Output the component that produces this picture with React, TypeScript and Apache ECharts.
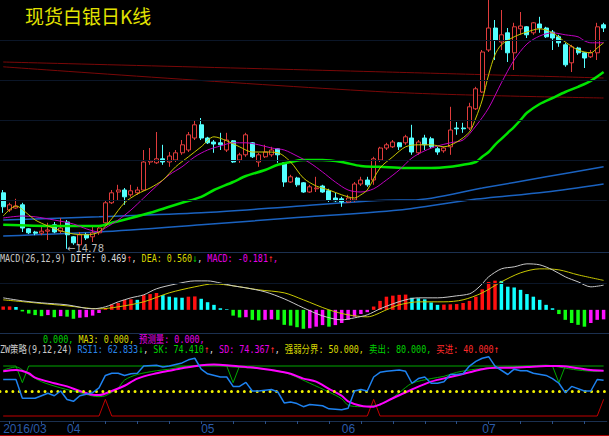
import React, { useEffect, useRef } from "react";
import * as echarts from "echarts";

// ---------- categories ----------
const START_DATE = "2016-03-18";
const BAR_COUNT = 95;
function weekdays(start: string, n: number): string[] {
  const out: string[] = [];
  const d = new Date(start + "T00:00:00Z");
  while (out.length < n) {
    const wd = d.getUTCDay();
    if (wd !== 0 && wd !== 6) out.push(d.toISOString().slice(0, 10));
    d.setUTCDate(d.getUTCDate() + 1);
  }
  return out;
}
const dates = weekdays(START_DATE, BAR_COUNT);

// ---------- K line: [open, close, low, high] ----------
const ohlc: number[][] = [
  [16.18, 15.83, 15.68, 16.25], [15.75, 15.88, 15.70, 15.93], [15.80, 15.85, 15.78, 16.03], [15.88, 15.30, 15.20, 15.93],
  [15.28, 15.18, 15.15, 15.30], [15.20, 15.17, 15.12, 15.23], [15.17, 15.22, 15.12, 15.33], [15.22, 15.25, 15.00, 15.43],
  [15.38, 15.20, 15.17, 15.45], [15.22, 15.30, 15.17, 15.55], [15.45, 15.13, 14.78, 15.50], [15.08, 14.93, 14.88, 15.10],
  [14.88, 15.13, 14.83, 15.20], [15.13, 15.05, 15.00, 15.18], [15.08, 15.18, 14.95, 15.33], [15.18, 15.30, 15.13, 15.35],
  [15.43, 15.93, 15.35, 15.98], [15.93, 16.18, 15.90, 16.25], [16.20, 16.25, 16.00, 16.38], [16.25, 16.08, 15.88, 16.30],
  [16.13, 16.23, 16.08, 16.38], [16.18, 16.25, 16.13, 16.33], [16.25, 16.95, 16.23, 17.25], [16.95, 16.98, 16.88, 17.30],
  [16.93, 17.03, 16.90, 17.70], [17.03, 16.95, 16.88, 17.38], [16.95, 17.10, 16.83, 17.20], [17.00, 17.18, 16.95, 17.25],
  [17.18, 17.38, 17.13, 17.50], [17.25, 17.63, 17.20, 17.70], [17.55, 17.88, 17.50, 18.00], [17.88, 17.55, 17.50, 18.05],
  [17.55, 17.43, 17.40, 17.58], [17.45, 17.40, 17.18, 17.50], [17.43, 17.38, 17.25, 17.68], [17.25, 17.50, 17.20, 17.68],
  [17.48, 16.95, 16.93, 17.50], [17.00, 17.13, 16.93, 17.18], [17.13, 17.63, 17.08, 17.68], [17.43, 17.08, 17.05, 17.45],
  [16.95, 17.13, 16.83, 17.18], [17.08, 17.20, 17.05, 17.38], [17.13, 17.25, 17.08, 17.33], [17.28, 17.13, 16.93, 17.30],
  [16.93, 16.45, 16.33, 16.95], [16.45, 16.58, 16.43, 16.63], [16.55, 16.38, 16.33, 16.58], [16.43, 16.20, 16.18, 16.45],
  [16.20, 16.33, 16.18, 16.38], [16.28, 16.30, 16.20, 16.58], [16.35, 16.20, 16.18, 16.38], [16.23, 16.00, 15.95, 16.28],
  [16.05, 15.98, 15.95, 16.18], [16.03, 15.95, 15.83, 16.08], [15.95, 16.05, 15.93, 16.13], [16.00, 16.40, 15.95, 16.45],
  [16.40, 16.50, 16.35, 16.58], [16.50, 16.38, 16.33, 16.58], [16.50, 17.03, 16.38, 17.08], [17.00, 17.30, 16.95, 17.33],
  [17.30, 17.38, 17.25, 17.43], [17.33, 17.45, 17.30, 17.50], [17.43, 17.33, 17.25, 17.45], [17.43, 17.58, 17.38, 17.63],
  [17.55, 17.20, 17.13, 17.88], [17.18, 17.45, 17.13, 17.50], [17.55, 17.38, 17.25, 17.63], [17.53, 17.33, 17.30, 17.58],
  [17.28, 17.20, 17.13, 17.33], [17.23, 17.30, 17.18, 17.33], [17.33, 17.75, 17.13, 18.33], [17.80, 17.78, 17.63, 17.95],
  [17.80, 17.78, 17.68, 17.93], [17.80, 18.33, 17.75, 18.43], [18.28, 18.78, 18.25, 18.83], [18.70, 19.70, 18.68, 19.75],
  [19.75, 20.30, 19.70, 21.10], [20.30, 20.00, 19.50, 20.50], [19.95, 20.13, 19.75, 20.75], [20.18, 19.68, 19.45, 20.30],
  [19.68, 20.33, 19.25, 20.43], [20.28, 20.35, 20.13, 20.70], [20.33, 20.13, 20.05, 20.35], [20.18, 20.43, 20.13, 20.45],
  [20.40, 20.30, 20.18, 20.58], [20.30, 20.08, 20.05, 20.33], [20.20, 20.05, 19.75, 20.25], [20.08, 19.93, 19.83, 20.13],
  [19.88, 19.38, 19.33, 19.93], [19.43, 19.83, 19.20, 19.88], [19.80, 19.68, 19.63, 19.83], [19.68, 19.55, 19.30, 19.70],
  [19.58, 19.68, 19.55, 19.75], [19.68, 20.33, 19.50, 20.43], [20.38, 20.30, 20.20, 20.43],
];
const LOW_INDEX = 10;
const LOW_VALUE = 14.78;

// ---------- moving averages, [index, price] ----------
const ma5 = [[0,15.60],[2,15.85],[4,15.63],[5,15.50],[7,15.35],[9,15.23],[11,15.15],[13,15.13],[15,15.20],[17,15.53],[19,15.93],[21,16.15],[23,16.30],[25,16.50],[27,16.83],[29,17.08],[31,17.33],[33,17.58],[35,17.48],[37,17.33],[39,17.20],[41,17.20],[43,17.18],[45,16.95],[47,16.55],[49,16.35],[51,16.25],[53,16.13],[55,16.05],[56,16.13],[57,16.25],[59,16.80],[61,17.08],[63,17.33],[65,17.38],[67,17.38],[69,17.33],[71,17.45],[73,17.70],[74,18.05],[75,18.50],[76,19.13],[77,19.63],[78,19.88],[80,20.08],[82,20.20],[84,20.28],[86,20.18],[88,19.95],[90,19.75],[92,19.68],[93,19.80],[94,19.93]];
const ma10 = [[0,15.55],[3,15.60],[5,15.58],[8,15.50],[11,15.40],[13,15.28],[15,15.20],[16,15.30],[18,15.50],[20,15.75],[22,16.05],[24,16.35],[26,16.63],[28,16.83],[30,17.08],[32,17.25],[34,17.35],[36,17.43],[38,17.43],[40,17.38],[42,17.30],[44,17.25],[46,17.10],[48,16.93],[50,16.70],[52,16.45],[54,16.25],[56,16.20],[58,16.28],[60,16.50],[62,16.75],[64,17.05],[66,17.23],[68,17.35],[70,17.43],[72,17.50],[74,17.85],[76,18.30],[78,18.93],[80,19.50],[82,19.90],[84,20.10],[86,20.18],[88,20.13],[90,20.08],[91,19.98],[92,19.93],[94,19.93]];
const maGreen = [[0,15.38],[8,15.35],[15,15.35],[17,15.43],[20,15.55],[23,15.68],[26,15.83],[28,15.93],[31,16.08],[33,16.25],[36,16.45],[38,16.60],[41,16.75],[43,16.88],[45,16.95],[47,17.00],[50,17.00],[53,16.95],[56,16.85],[59,16.83],[63,16.80],[67,16.80],[70,16.83],[72,16.88],[74,16.95],[75,17.08],[76,17.20],[77,17.38],[78,17.53],[79,17.68],[80,17.83],[81,18.00],[82,18.18],[84,18.40],[86,18.55],[88,18.70],[90,18.83],[92,18.98],[94,19.20]];
const maBlue1 = [[0,15.50],[15,15.58],[31,15.68],[45,15.83],[62,16.00],[64,16.00],[75,16.30],[85,16.58],[94,16.83]];
const maBlue2 = [[0,15.10],[15,15.20],[31,15.38],[45,15.55],[62,15.75],[73,16.00],[85,16.20],[94,16.40]];
const maRed1 = [[0,19.45],[60,19.20],[94,19.05]];
const maRed2 = [[0,19.33],[60,18.70],[94,18.55]];
const PRICE_GRID = [16, 17, 18, 19, 20];

// ---------- MACD ----------
const macdHist = [0.063,0.065,0.055,-0.03,-0.07,-0.10,-0.12,-0.10,-0.14,-0.12,-0.13,-0.17,-0.15,-0.14,-0.11,-0.06,0.03,0.10,0.13,0.19,0.20,0.19,0.28,0.30,0.32,0.28,0.25,0.235,0.23,0.25,0.255,0.21,0.145,0.095,0.03,0.012,-0.11,-0.145,-0.14,-0.19,-0.20,-0.19,-0.18,-0.19,-0.285,-0.30,-0.33,-0.36,-0.35,-0.32,-0.29,-0.32,-0.29,-0.25,-0.19,-0.13,-0.08,-0.045,0.063,0.17,0.25,0.27,0.285,0.29,0.23,0.22,0.20,0.14,0.095,0.10,0.105,0.11,0.13,0.17,0.25,0.39,0.53,0.555,0.55,0.44,0.425,0.38,0.30,0.25,0.19,0.095,0.03,-0.08,-0.19,-0.25,-0.285,-0.32,-0.25,-0.19,-0.181];
const diffLine = [[0,0.228],[3,0.171],[6,0.133],[10,0.095],[14,0.019],[16,0.057],[18,0.152],[20,0.228],[22,0.285],[24,0.40],[27,0.49],[30,0.55],[32,0.55],[34,0.51],[36,0.456],[38,0.418],[41,0.342],[44,0.209],[47,0.038],[50,-0.114],[53,-0.19],[55,-0.152],[57,-0.095],[59,0.019],[61,0.114],[63,0.19],[65,0.228],[68,0.228],[71,0.266],[73,0.304],[74,0.38],[75,0.494],[76,0.627],[78,0.779],[80,0.817],[82,0.874],[84,0.855],[86,0.76],[88,0.627],[90,0.532],[92,0.437],[94,0.469]];
const deaLine = [[0,0.19],[5,0.133],[10,0.076],[15,0.019],[18,0.057],[22,0.152],[26,0.323],[30,0.437],[33,0.494],[36,0.456],[40,0.38],[44,0.323],[47,0.19],[51,0.0],[54,-0.095],[57,-0.133],[60,0.0],[62,0.095],[65,0.152],[69,0.152],[72,0.19],[75,0.323],[78,0.532],[81,0.703],[84,0.779],[87,0.76],[90,0.665],[94,0.56]];
const MACD_GRID = [0.5];

// ---------- ZW strategy ----------
const rsi1 = [[0,63.8],[2,63.8],[3,41.3],[5,41.3],[7,47.3],[8,44.3],[9,50],[10,39.8],[11,37.6],[12,44.3],[14,48],[15,53.7],[16,68.7],[17,71.3],[18,71.3],[19,68.7],[20,70.6],[21,71.3],[22,79.9],[24,81],[25,78.8],[26,79.9],[28,83.7],[29,87.4],[30,89.3],[31,76.2],[32,70.6],[34,66.8],[35,66.8],[36,55.5],[37,55.5],[38,60.4],[39,50],[40,50],[42,51.8],[43,48.8],[44,35.7],[45,36.8],[46,34.9],[47,31.2],[48,33.8],[50,32.3],[51,28.6],[53,27.4],[54,29.3],[55,50],[56,51.8],[57,50],[58,66.8],[59,72.4],[60,73.6],[62,75.1],[63,73.6],[64,59.3],[65,64.9],[66,66.8],[67,59.3],[68,59.3],[69,61.2],[70,69.8],[71,69.8],[72,70.6],[73,79.9],[74,85.6],[75,89.3],[76,91.2],[77,79.9],[79,69.8],[80,76.2],[81,74.3],[82,74.3],[83,71.3],[85,68.7],[86,64.9],[87,59.3],[88,48],[89,55.5],[91,50],[92,50],[93,63.8],[94,62.8]];
const skLine = [[0,75.1],[2,78.8],[4,69.8],[6,61.2],[9,53.7],[12,48],[14,44],[15,43.2],[16,44.3],[18,53.7],[19,63.1],[21,69.8],[24,74.3],[26,76.2],[28,78.8],[31,81],[33,81],[36,78.8],[38,78],[41,76.2],[43,74.3],[45,69.8],[48,59.3],[51,48.8],[53,40.6],[54,33],[56,31.2],[58,32.3],[60,36.8],[62,48],[64,59.3],[67,64.9],[69,67.6],[71,72.4],[74,76.2],[76,77.3],[79,78.8],[82,79.9],[85,81],[87,78.8],[90,75.1],[93,73.6],[94,74.4]];
const sdLine = [[0,73.6],[2,75.1],[4,71.3],[5,66.1],[8,59.3],[10,55.5],[12,50],[14,45.4],[15,45.1],[17,50],[19,56.3],[21,64.9],[24,71.3],[26,74.3],[28,77.3],[31,81],[33,81.8],[35,81],[38,78.8],[40,77.3],[42,75.1],[45,70.6],[47,64.9],[49,61.2],[51,52.6],[53,44.3],[54,37.6],[56,32.3],[58,31.2],[59,33.8],[61,41.3],[64,51.8],[67,61.2],[70,66.8],[73,72.4],[75,76.2],[77,78],[80,78],[82,78.8],[85,79.9],[87,79.9],[90,77.3],[92,75.1],[94,74.4]];
const sellLine = [[0,80],[2,80],[3,60],[4,80],[35,80],[36,60],[37,80],[86,80],[87,60],[88,80],[94,80]];
const buyLine = [[0,20],[15,20],[16,40],[17,20],[57,20],[58,40],[59,20],[93,20],[94,40]];
const RSI_MID = 50;

// ---------- text labels ----------
const TITLE = "现货白银日K线";
const macdLabel: [string, string][] = [
  ["MACD(26,12,9) ", "g"], ["DIFF: 0.469", "w"], ["↑", "r"], [", ", "w"],
  ["DEA: 0.560", "y"], ["↓", "gr"], [", ", "w"], ["MACD: -0.181", "m"], ["↑", "r"], [",", "m"],
];
const volLabel: [string, string][] = [
  ["0.000, ", "gr"], ["MA3: 0.000, ", "y"], ["预测量: 0.000,", "m"],
];
const zwLabel: [string, string][] = [
  ["ZW策略(9,12,24) ", "g"], ["RSI1: 62.833", "b"], ["↓", "gr"], [", ", "w"],
  ["SK: 74.410", "gr"], ["↑", "r"], [", ", "w"], ["SD: 74.367", "m"], ["↑", "r"], [", ", "w"],
  ["强弱分界: 50.000, ", "y"], ["卖出: 80.000, ", "gr"], ["买进: 40.000", "r"], ["↑", "r"],
];

const MONO = "'DejaVu Sans Mono', 'Noto Sans CJK SC', monospace";
const RICH_COLORS: Record<string, string> = {
  g: "#c8c8c8", w: "#dcdcdc", r: "#ff2a2a", gr: "#00d000", y: "#d8d800", m: "#e800e8", b: "#2a86ea",
};
function richText(segs: [string, string][]) {
  return segs.map(([t, k]) => `{${k}|${t}}`).join("");
}
function richStyles() {
  const out: Record<string, any> = {};
  Object.keys(RICH_COLORS).forEach((k) => {
    out[k] = { fill: RICH_COLORS[k], fontSize: 10.5, fontFamily: MONO };
  });
  return out;
}

function histColor(i: number): string {
  const v = macdHist[i];
  const p = i > 0 ? macdHist[i - 1] : v;
  if (v >= 0) return v >= p ? "#ff1010" : "#10ffff";
  return v <= p ? "#10ff10" : "#ff10ff";
}

const isMonthStart = (i: number) => i === 0 || dates[i].slice(5, 7) !== dates[i - 1].slice(5, 7);
const isMonday = (i: number) => new Date(dates[i] + "T00:00:00Z").getUTCDay() === 1;

export default function App() {
  const ref = useRef<HTMLDivElement>(null);
  useEffect(() => {
    if (!ref.current) return;
    const chart = echarts.init(ref.current, undefined, { renderer: "svg" });
    const GL = -3.21;
    const GW = 610;
    const line = (data: number[][], xi: number, color: string, width: number, smooth: any, z = 3) => ({
      type: "line", xAxisIndex: xi, yAxisIndex: xi, data, showSymbol: false, symbol: "none",
      smooth, z, lineStyle: { color, width }, silent: true,
    });
    const gridMark = (vals: number[]) => ({
      silent: true, symbol: ["none", "none"], label: { show: false },
      lineStyle: { color: "#0b1628", width: 1, type: "solid" },
      data: vals.map((v) => ({ yAxis: v })),
    });
    chart.setOption({
      animation: false,
      backgroundColor: "#000000",
      grid: [
        { left: GL, width: GW, top: 0, height: 252 },
        { left: GL, width: GW, top: 253, height: 80 },
        { left: GL, width: GW, top: 333, height: 88 },
        { left: GL, width: GW, top: 421, height: 15 },
      ],
      xAxis: [
        { type: "category", gridIndex: 0, data: dates, show: false },
        { type: "category", gridIndex: 1, data: dates, show: false },
        {
          type: "category", gridIndex: 2, data: dates,
          axisLine: { show: true, lineStyle: { color: "#1b3050" } },
          axisTick: { show: true, alignWithLabel: true, interval: isMonday, length: 3, lineStyle: { color: "#2b4f86" } },
          axisLabel: { show: false }, splitLine: { show: false },
        },
        {
          type: "category", gridIndex: 3, position: "top", data: dates,
          axisLine: { show: false },
          axisTick: { show: true, inside: true, alignWithLabel: true, length: 15, interval: isMonthStart, lineStyle: { color: "#1e3c6e" } },
          axisLabel: {
            show: true, inside: true, interval: isMonthStart, align: "left", margin: 2,
            color: "#2a5aa8", fontSize: 12, fontFamily: "Liberation Sans",
            formatter: (v: string, i: number) => (i === 0 ? v.slice(0, 7).replace("-", "/") : v.slice(5, 7)),
          },
          splitLine: { show: false },
        },
      ],
      yAxis: [
        { type: "value", gridIndex: 0, min: 14.7, max: 21.0, show: false },
        { type: "value", gridIndex: 1, min: -0.44, max: 1.08, show: false },
        { type: "value", gridIndex: 2, min: 14, max: 119.6, show: false },
        { type: "value", gridIndex: 3, show: false },
      ],
      series: [
        { ...line(maBlue1, 0, "#1a62c0", 1.5, 0.3, 1), markLine: gridMark(PRICE_GRID) },
        line(maBlue2, 0, "#1a62c0", 1.5, 0.3, 1),
        line(maRed1, 0, "#7a0808", 1, 0.3, 1),
        line(maRed2, 0, "#7a0808", 1, 0.3, 1),
        {
          type: "candlestick", xAxisIndex: 0, yAxisIndex: 0, data: ohlc, barWidth: 4.5, z: 2,
          itemStyle: { color: "#000000", color0: "#54ffff", borderColor: "#e03c3c", borderColor0: "#54ffff", borderWidth: 1 },
          markPoint: {
            silent: true, symbol: "circle", symbolSize: 0,
            label: { show: true, position: "right", distance: 0, color: "#b8b8b8", fontSize: 10, fontFamily: "DejaVu Sans" },
            data: [{ coord: [LOW_INDEX, LOW_VALUE], value: LOW_VALUE, label: { formatter: "\u2190" + LOW_VALUE.toFixed(2) } }],
          },
        },
        line(maGreen, 0, "#00e400", 2.5, 0.3),
        line(ma10, 0, "#c000c0", 1, 0.3),
        line(ma5, 0, "#c8c800", 1, 0.3),

        { ...line(deaLine, 1, "#c8c800", 1, 0.3), markLine: gridMark(MACD_GRID), z: 4 },
        {
          type: "bar", xAxisIndex: 1, yAxisIndex: 1, barWidth: 3.5, z: 2, silent: true,
          data: macdHist.map((v, i) => ({ value: v, itemStyle: { color: histColor(i) } })),
        },
        line(diffLine, 1, "#c8c8c8", 1, 0.3, 4),

        line(sellLine, 2, "#00a800", 1, false, 2),
        line(buyLine, 2, "#c00000", 1, false, 2),
        {
          ...line(skLine, 2, "#00a800", 1, 0.3, 3),
          markLine: {
            silent: true, symbol: ["none", "none"], label: { show: false },
            lineStyle: { color: "#f0f000", width: 3, type: [0.01, 6.42], cap: "round" },
            data: [{ yAxis: RSI_MID }],
          },
        },
        line(sdLine, 2, "#ff00ff", 2, 0.3, 4),
        line(rsi1, 2, "#1e82f0", 1.5, false, 5),
      ],
      graphic: [
        { type: "line", shape: { x1: 0, y1: 252.5, x2: 609, y2: 252.5 }, style: { stroke: "#1b3050", lineWidth: 1 }, silent: true },
        { type: "line", shape: { x1: 0, y1: 333.5, x2: 609, y2: 333.5 }, style: { stroke: "#1b3050", lineWidth: 1 }, silent: true },
        { type: "line", shape: { x1: 0, y1: 435.5, x2: 609, y2: 435.5 }, style: { stroke: "#b00000", lineWidth: 1 }, silent: true },
        {
          type: "text", x: 25, y: 6, silent: true,
          style: { text: TITLE, fill: "#e2e200", fontSize: 19, fontFamily: "'Noto Sans CJK SC'", verticalAlign: "top" },
        },
        {
          type: "text", x: 0, y: 258.5, scaleX: 0.8, silent: true,
          style: { text: richText(macdLabel), rich: richStyles(), fontSize: 10.5, fontFamily: MONO, verticalAlign: "middle" },
        },
        {
          type: "text", x: 43, y: 339.5, scaleX: 0.8, silent: true,
          style: { text: richText(volLabel), rich: richStyles(), fontSize: 10.5, fontFamily: MONO, verticalAlign: "middle" },
        },
        {
          type: "text", x: 0, y: 349.5, scaleX: 0.8, silent: true,
          style: { text: richText(zwLabel), rich: richStyles(), fontSize: 10.5, fontFamily: MONO, verticalAlign: "middle" },
        },
      ],
    });
    return () => chart.dispose();
  }, []);
  return <div ref={ref} style={{ width: 609, height: 436, position: "absolute", left: 0, top: 0, background: "#000" }} />;
}
